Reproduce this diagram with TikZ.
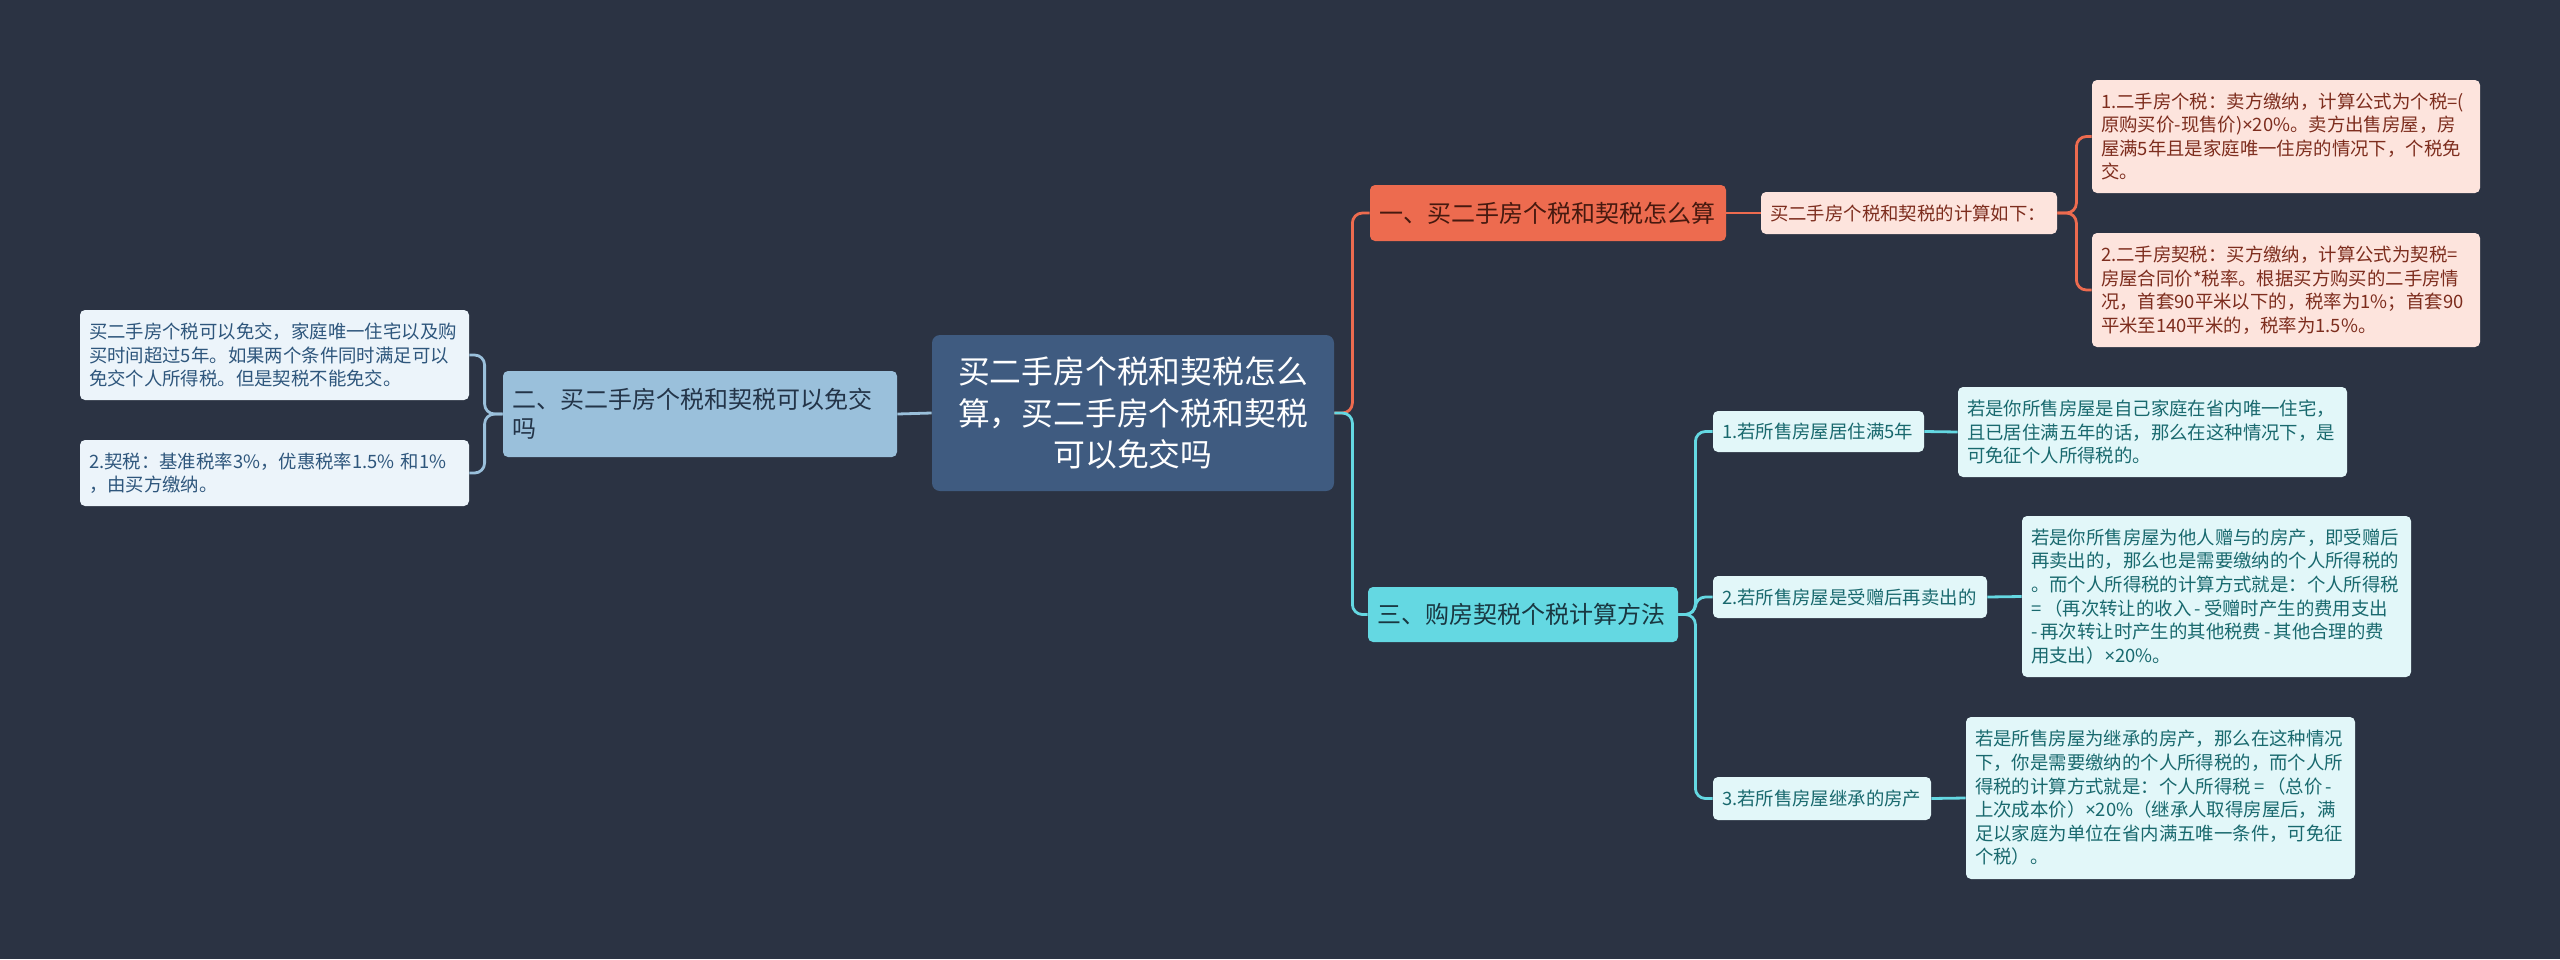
\documentclass[tikz,border=0pt]{standalone}
\usepackage{fontspec}
\setmainfont{Noto Sans CJK SC}
\newfontfamily\latinfont{Noto Sans}
\newcommand{\timessign}{{\latinfont ×}}
\usetikzlibrary{positioning}
\definecolor{MapBack}{RGB}{43,51,67}
\definecolor{RootBlue}{RGB}{63,91,128}
\definecolor{SkyFill}{RGB}{154,192,219}
\definecolor{SkyInk}{RGB}{35,52,72}
\definecolor{SkyLeaf}{RGB}{236,244,250}
\definecolor{SkyLeafInk}{RGB}{46,86,124}
\definecolor{CoralFill}{RGB}{237,107,79}
\definecolor{CoralInk}{RGB}{70,25,15}
\definecolor{CoralLeaf}{RGB}{253,228,221}
\definecolor{CoralLeafInk}{RGB}{125,45,30}
\definecolor{AquaFill}{RGB}{100,216,226}
\definecolor{AquaInk}{RGB}{25,55,65}
\definecolor{AquaLeaf}{RGB}{226,247,249}
\definecolor{AquaLeafInk}{RGB}{25,105,110}

\begin{document}
\begin{tikzpicture}[x=0.5pt,y=-0.5pt,
    box/.style={rounded corners=2.5pt,inner xsep=4.5pt,inner ysep=0pt,align=left},
    leaftext/.style={font=\fontsize{9.2}{11.8}\selectfont},
    branchtext/.style={font=\fontsize{12}{14.5}\selectfont},
    skyleaf/.style={box,leaftext,fill=SkyLeaf,text=SkyLeafInk,text width=185.5pt},
    coralleaf/.style={box,leaftext,fill=CoralLeaf,text=CoralLeafInk},
    aqualeaf/.style={box,leaftext,fill=AquaLeaf,text=AquaLeafInk},
    link/.style={line width=1.4pt,rounded corners=5pt},
    skylink/.style={link,SkyFill},
    corallink/.style={link,CoralFill},
    aqualink/.style={link,AquaFill}]
  \fill[MapBack] (0,0) rectangle (2560,959);
  % centre topic
  \node[box,rounded corners=4pt,inner xsep=5.5pt,align=center,fill=RootBlue,text=white,
        text width=190pt,minimum height=78pt,font=\fontsize{15.9}{20.8}\selectfont]
        (root) at (1133,413) {买二手房个税和契税怎么\\算，买二手房个税和契税\\可以免交吗};
  % left branch
  \node[box,branchtext,fill=SkyFill,text=SkyInk,text width=188pt,minimum height=43pt]
        (two) at (700,414) {二、买二手房个税和契税可以免交\\吗};
  \node[skyleaf,minimum height=45pt] (twoa) at (274.5,355)
        {买二手房个税可以免交，家庭唯一住宅以及购\\买时间超过5年。如果两个条件同时满足可以\\免交个人所得税。但是契税不能免交。};
  \node[skyleaf,minimum height=33pt] (twob) at (274.5,473)
        {2.契税：基准税率3\%，优惠税率1.5\%~和1\%\\，由买方缴纳。};
  % upper right branch
  \node[box,branchtext,fill=CoralFill,text=CoralInk,text width=169pt,minimum height=28pt]
        (one) at (1548,213) {一、买二手房个税和契税怎么算};
  \node[coralleaf,text width=139pt,minimum height=21pt] (calc) at (1909,213)
        {买二手房个税和契税的计算如下：};
  \node[coralleaf,text width=185pt,minimum height=56.5pt] (onea) at (2286,136.5)
        {1.二手房个税：卖方缴纳，计算公式为个税=(\\原购买价-现售价)\timessign20\%。卖方出售房屋，房\\屋满5年且是家庭唯一住房的情况下，个税免\\交。};
  \node[coralleaf,text width=185pt,minimum height=57pt] (oneb) at (2286,290)
        {2.二手房契税：买方缴纳，计算公式为契税=\\房屋合同价*税率。根据买方购买的二手房情\\况，首套90平米以下的，税率为1\%；首套90\\平米至140平米的，税率为1.5\%。};
  % lower right branch
  \node[box,branchtext,fill=AquaFill,text=AquaInk,text width=146pt,minimum height=27.5pt]
        (three) at (1523,614.5) {三、购房契税个税计算方法};
  \node[aqualeaf,text width=96.5pt,minimum height=20.5pt] (s1) at (1818.5,431.5)
        {1.若所售房屋居住满5年};
  \node[aqualeaf,text width=128pt,minimum height=21pt] (s2) at (1850,597)
        {2.若所售房屋是受赠后再卖出的};
  \node[aqualeaf,text width=100pt,minimum height=21.5pt] (s3) at (1822,798.5)
        {3.若所售房屋继承的房产};
  \node[aqualeaf,text width=185.5pt,minimum height=45pt] (s1a) at (2152.5,432)
        {若是你所售房屋是自己家庭在省内唯一住宅，\\且已居住满五年的话，那么在这种情况下，是\\可免征个人所得税的。};
  \node[aqualeaf,text width=185.5pt,minimum height=80.5pt] (s2a) at (2216.5,596.5)
        {若是你所售房屋为他人赠与的房产，即受赠后\\再卖出的，那么也是需要缴纳的个人所得税的\\。而个人所得税的计算方式就是：个人所得税\\=\,（再次转让的收入\,-\,受赠时产生的费用支出\\-\,再次转让时产生的其他税费\,-\,其他合理的费\\用支出）\timessign20\%。};
  \node[aqualeaf,text width=185.5pt,minimum height=81pt] (s3a) at (2160.5,798)
        {若是所售房屋为继承的房产，那么在这种情况\\下，你是需要缴纳的个人所得税的，而个人所\\得税的计算方式就是：个人所得税\,=\,（总价\,-\\上次成本价）\timessign20\%（继承人取得房屋后，满\\足以家庭为单位在省内满五唯一条件，可免征\\个税）。};
  % connectors
  \draw[skylink] (root.west) -- (two.east);
  \draw[skylink] (two.west) -- ++(-18,0) |- (twoa.east);
  \draw[skylink] (two.west) -- ++(-18,0) |- (twob.east);
  \draw[corallink] (root.east) -- ++(18,0) |- (one.west);
  \draw[aqualink] (root.east) -- ++(18,0) |- (three.west);
  \draw[corallink] (one.east) -- (calc.west);
  \draw[corallink] (calc.east) -- ++(19,0) |- (onea.west);
  \draw[corallink] (calc.east) -- ++(19,0) |- (oneb.west);
  \draw[aqualink] (three.east) -- ++(17,0) |- (s1.west);
  \draw[aqualink] (three.east) -- ++(17,0) |- (s2.west);
  \draw[aqualink] (three.east) -- ++(17,0) |- (s3.west);
  \draw[aqualink] (s1.east) -- (s1a.west);
  \draw[aqualink] (s2.east) -- (s2a.west);
  \draw[aqualink] (s3.east) -- (s3a.west);
\end{tikzpicture}
\end{document}
